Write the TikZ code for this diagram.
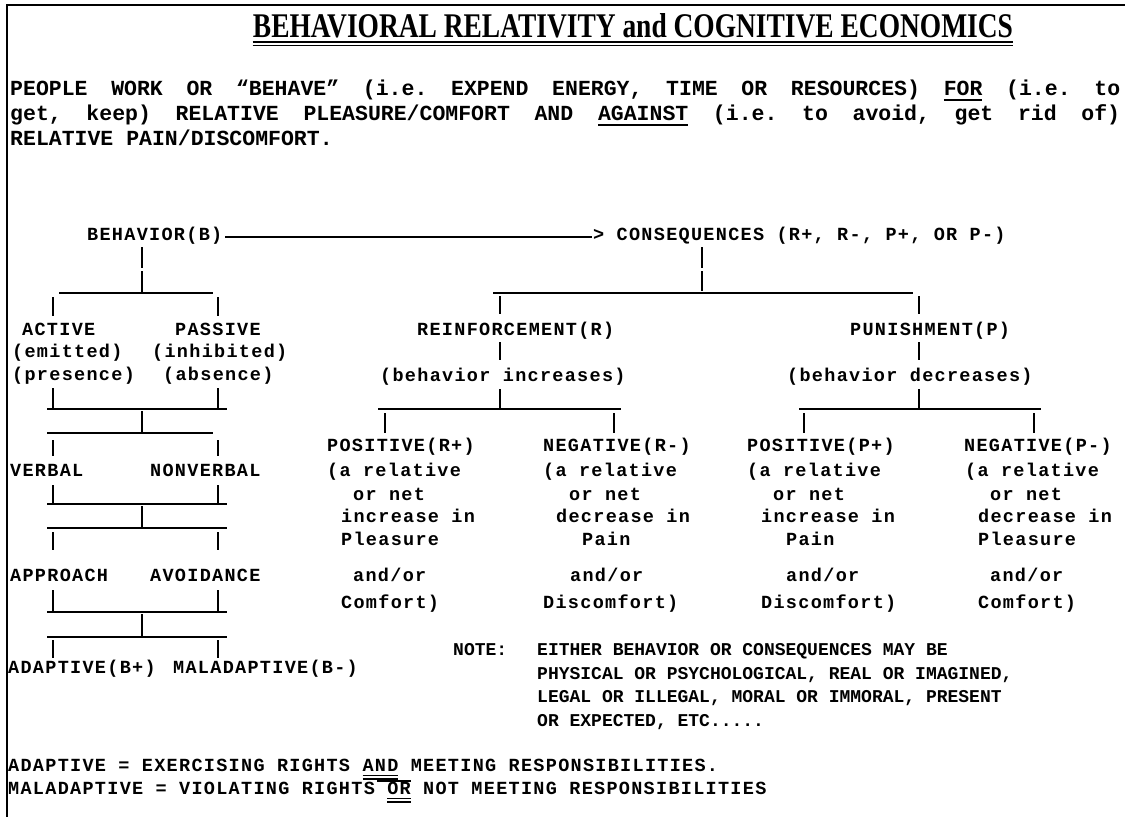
\documentclass[tikz,border=0pt]{standalone}
\usepackage{graphicx}
\usepackage{fontspec}
\setmainfont{Liberation Serif}
\newfontfamily\dmono{Liberation Mono}[LetterSpace=7]
\newfontfamily\nmono{Liberation Mono}
\newcommand\hul[1]{\setbox0\hbox{#1}\rlap{\rule[-6pt]{\wd0}{1.6pt}}\box0\relax}
\newcommand\dblul[1]{\setbox0\hbox{#1}\rlap{\rule[-5pt]{\wd0}{1.3pt}}\rlap{\rule[-8.5pt]{\wd0}{1.3pt}}\box0\relax}
\newcommand\ovlS[1]{\setbox2\hbox{#1}\rlap{\kern-10pt\rule[12.5pt]{\dimexpr\wd2+10pt\relax}{1.3pt}}\box2\relax}
\newcommand\jline[1]{{\frenchspacing\spaceskip=0.6em plus 1fil\makebox[1110pt][s]{#1}}}
\tikzset{
  dtxt/.style={anchor=base west, inner sep=0pt, font=\dmono\bfseries\fontsize{18.5}{22}\selectfont},
  ntxt/.style={anchor=base west, inner sep=0pt, font=\nmono\bfseries\fontsize{18}{22}\selectfont},
  htxt/.style={anchor=base west, inner sep=0pt, font=\nmono\bfseries\fontsize{21.5}{25}\selectfont},
  seg/.style={line width=1.8pt},
  rule/.style={line width=2pt},
}
\begin{document}
\begin{tikzpicture}[x=1pt,y=-1pt]
\useasboundingbox (0,0) rectangle (1125,817);
\fill[white] (0,0) rectangle (1125,817);
% frame
\draw[rule] (7,5) -- (1125,5);
\draw[rule] (7,4) -- (7,817);
% title
\node[anchor=base, inner sep=0pt] (title) at (633,37)
  {\resizebox{760pt}{24pt}{\bfseries BEHAVIORAL RELATIVITY and COGNITIVE ECONOMICS}};
\draw[line width=1.3pt] ([yshift=-5pt]title.base west) -- ([yshift=-5pt]title.base east);
\draw[line width=1.3pt] ([yshift=-8.5pt]title.base west) -- ([yshift=-8.5pt]title.base east);
% heading text
\node[htxt] (h1) at (10,95) {\jline{PEOPLE WORK OR “BEHAVE” (i.e. EXPEND ENERGY, TIME OR RESOURCES) \hul{FOR} (i.e. to}};
\node[htxt] (h2) at (10,120) {\jline{get, keep) RELATIVE PLEASURE/COMFORT AND \hul{AGAINST} (i.e. to avoid, get rid of)}};
\node[htxt] (h3) at (10,145) {RELATIVE PAIN/DISCOMFORT.};
% top row
\node[dtxt] (beh) at (87,240) {BEHAVIOR(B)};
\node[dtxt] (cons) at (593,240) {> CONSEQUENCES (R+, R-, P+, OR P-)};
\draw[seg] ([shift={(3,-3)}]beh.base east) -- ([shift={(-1,-3)}]cons.base west);
% left tree labels
\node[dtxt] (act) at (22,335) {ACTIVE};
\node[dtxt] (emi) at (12,357) {(emitted)};
\node[dtxt] (pre) at (12,380) {(presence)};
\node[dtxt] (pas) at (175,335) {PASSIVE};
\node[dtxt] (inh) at (152,357) {(inhibited)};
\node[dtxt] (abs) at (163,380) {(absence)};
\node[dtxt] (verb) at (10,476) {VERBAL};
\node[dtxt] (nverb) at (150,476) {NONVERBAL};
\node[dtxt] (appr) at (10,581) {APPROACH};
\node[dtxt] (avoid) at (150,581) {AVOIDANCE};
\node[dtxt] (adap) at (8,673) {ADAPTIVE(B+)};
\node[dtxt] (malad) at (173,673) {MALADAPTIVE(B-)};
% left tree lines
\draw[seg] (142,247) -- (142,268) (142,271) -- (142,293);
\draw[seg] (59,293) -- (213,293);
\draw[seg] (53,297) -- (53,316) (218,297) -- (218,316);
\draw[seg] (53,388) -- (53,409) (218,388) -- (218,409);
\draw[seg] (47,409) -- (227,409);
\draw[seg] (142,411) -- (142,433);
\draw[seg] (47,433) -- (213,433);
\draw[seg] (53,440) -- (53,456) (218,440) -- (218,456);
\draw[seg] (53,485) -- (53,504) (218,485) -- (218,504);
\draw[seg] (47,504) -- (227,504);
\draw[seg] (142,506) -- (142,528);
\draw[seg] (47,528) -- (227,528);
\draw[seg] (53,532) -- (53,550) (218,532) -- (218,550);
\draw[seg] (53,590) -- (53,612) (218,590) -- (218,612);
\draw[seg] (47,612) -- (227,612);
\draw[seg] (142,614) -- (142,636);
\draw[seg] (47,637) -- (227,637);
\draw[seg] (53,640) -- (53,658) (218,640) -- (218,658);
% right tree labels
\node[dtxt] (reinf) at (417,335) {REINFORCEMENT(R)};
\node[dtxt] (bi) at (380,381) {(behavior increases)};
\node[dtxt] (pun) at (850,335) {PUNISHMENT(P)};
\node[dtxt] (bd) at (787,381) {(behavior decreases)};
% right tree lines
\draw[seg] (702,247) -- (702,268) (702,271) -- (702,291);
\draw[seg] (493,293) -- (913,293);
\draw[seg] (500,296) -- (500,314) (919,296) -- (919,314);
\draw[seg] (500,342) -- (500,360) (919,342) -- (919,360);
\draw[seg] (500,389) -- (500,408) (919,389) -- (919,408);
\draw[seg] (378,409) -- (621,409) (799,409) -- (1041,409);
\draw[seg] (385,413) -- (385,433) (614,413) -- (614,433)
           (804,413) -- (804,433) (1034,413) -- (1034,433);
% R+
\node[dtxt] (rp1) at (327,451) {POSITIVE(R+)};
\node[dtxt] (rp2) at (327,476) {(a relative};
\node[dtxt] (rp3) at (353,500) {or net};
\node[dtxt] (rp4) at (341,522) {increase in};
\node[dtxt] (rp5) at (341,545) {Pleasure};
\node[dtxt] (rp6) at (353,581) {and/or};
\node[dtxt] (rp7) at (341,608) {Comfort)};
% R-
\node[dtxt] (rm1) at (543,451) {NEGATIVE(R-)};
\node[dtxt] (rm2) at (543,476) {(a relative};
\node[dtxt] (rm3) at (569,500) {or net};
\node[dtxt] (rm4) at (556,522) {decrease in};
\node[dtxt] (rm5) at (582,545) {Pain};
\node[dtxt] (rm6) at (570,581) {and/or};
\node[dtxt] (rm7) at (543,608) {Discomfort)};
% P+
\node[dtxt] (pp1) at (747,451) {POSITIVE(P+)};
\node[dtxt] (pp2) at (747,476) {(a relative};
\node[dtxt] (pp3) at (773,500) {or net};
\node[dtxt] (pp4) at (761,522) {increase in};
\node[dtxt] (pp5) at (786,545) {Pain};
\node[dtxt] (pp6) at (786,581) {and/or};
\node[dtxt] (pp7) at (761,608) {Discomfort)};
% P-
\node[dtxt] (pm1) at (964,451) {NEGATIVE(P-)};
\node[dtxt] (pm2) at (965,476) {(a relative};
\node[dtxt] (pm3) at (990,500) {or net};
\node[dtxt] (pm4) at (978,522) {decrease in};
\node[dtxt] (pm5) at (978,545) {Pleasure};
\node[dtxt] (pm6) at (990,581) {and/or};
\node[dtxt] (pm7) at (978,608) {Comfort)};
% note
\node[ntxt] (note) at (453,655) {NOTE:};
\node[ntxt] (n1) at (537,655) {EITHER BEHAVIOR OR CONSEQUENCES MAY BE};
\node[ntxt] (n2) at (537,679) {PHYSICAL OR PSYCHOLOGICAL, REAL OR IMAGINED,};
\node[ntxt] (n3) at (537,702) {LEGAL OR ILLEGAL, MORAL OR IMMORAL, PRESENT};
\node[ntxt] (n4) at (537,726) {OR EXPECTED, ETC.....};
% bottom definitions
\node[dtxt] (def1) at (8,771) {ADAPTIVE = EXERCISING RIGHTS \dblul{AND} MEETING RESPONSIBILITIES.};
\node[dtxt] (def2) at (8,794) {MALADAPTIVE = VIOLATING RIGHTS \ovlS{\dblul{OR}} NOT MEETING RESPONSIBILITIES};
\end{tikzpicture}
\end{document}
